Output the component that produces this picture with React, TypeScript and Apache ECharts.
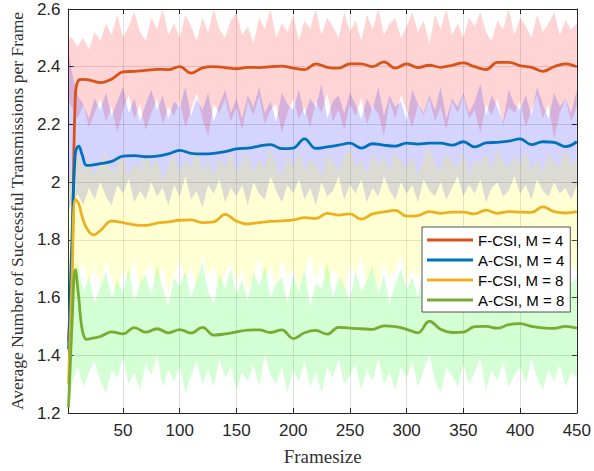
import React, { useEffect, useRef } from "react";
import * as echarts from "echarts";

// x positions of the mean curves
const lineX = [2, 5, 8, 11, 14, 18, 24, 30,
  40, 50, 60, 70, 80, 90, 100, 110, 120, 130,
  140, 150, 160, 170, 180, 190, 200, 210, 220, 230,
  240, 250, 260, 270, 280, 290, 300, 310, 320, 330,
  340, 350, 360, 370, 380, 390, 400, 410, 420, 430,
  440, 450];

const fcsiM4 = [1.45, 1.70, 2.30, 2.354, 2.356, 2.355, 2.350, 2.345,
  2.357, 2.382, 2.384, 2.387, 2.391, 2.390, 2.400, 2.378, 2.396, 2.400,
  2.397, 2.393, 2.398, 2.397, 2.400, 2.402, 2.395, 2.390, 2.410, 2.398,
  2.395, 2.410, 2.410, 2.400, 2.417, 2.395, 2.410, 2.397, 2.405, 2.398,
  2.405, 2.413, 2.400, 2.390, 2.415, 2.415, 2.404, 2.398, 2.384, 2.400,
  2.410, 2.400];

const acsiM4 = [1.42, 1.80, 2.10, 2.125, 2.095, 2.058, 2.060, 2.064,
  2.072, 2.090, 2.092, 2.088, 2.090, 2.098, 2.110, 2.100, 2.098, 2.100,
  2.106, 2.115, 2.118, 2.125, 2.130, 2.116, 2.118, 2.150, 2.117, 2.122,
  2.128, 2.135, 2.118, 2.133, 2.128, 2.125, 2.135, 2.132, 2.135, 2.135,
  2.128, 2.140, 2.122, 2.136, 2.138, 2.142, 2.150, 2.130, 2.140, 2.138,
  2.123, 2.140];

const fcsiM8 = [1.30, 1.65, 1.94, 1.925, 1.88, 1.84, 1.817, 1.832,
  1.865, 1.860, 1.852, 1.850, 1.858, 1.862, 1.868, 1.869, 1.860, 1.862,
  1.888, 1.865, 1.855, 1.860, 1.864, 1.866, 1.869, 1.877, 1.874, 1.892,
  1.886, 1.890, 1.872, 1.890, 1.897, 1.902, 1.882, 1.884, 1.898, 1.892,
  1.896, 1.896, 1.890, 1.903, 1.892, 1.898, 1.896, 1.895, 1.914, 1.898,
  1.893, 1.898];

const acsiM8 = [1.22, 1.50, 1.697, 1.60, 1.49, 1.455, 1.460, 1.465,
  1.481, 1.474, 1.496, 1.480, 1.492, 1.478, 1.489, 1.477, 1.497, 1.470,
  1.474, 1.481, 1.487, 1.488, 1.479, 1.488, 1.458, 1.478, 1.486, 1.473,
  1.497, 1.494, 1.492, 1.490, 1.502, 1.499, 1.490, 1.478, 1.518, 1.490,
  1.479, 1.480, 1.499, 1.500, 1.494, 1.506, 1.510, 1.500, 1.495, 1.493,
  1.500, 1.494];

// x positions of the shaded spread bands
const bandX = [2, 5, 10, 15, 20, 25, 30, 35, 40, 45,
  50, 55, 60, 65, 70, 75, 80, 85, 90, 95,
  100, 105, 110, 115, 120, 125, 130, 135, 140, 145,
  150, 155, 160, 165, 170, 175, 180, 185, 190, 195,
  200, 205, 210, 215, 220, 225, 230, 235, 240, 245,
  250, 255, 260, 265, 270, 275, 280, 285, 290, 295,
  300, 305, 310, 315, 320, 325, 330, 335, 340, 345,
  350, 355, 360, 365, 370, 375, 380, 385, 390, 395,
  400, 405, 410, 415, 420, 425, 430, 435, 440, 445,
  450];

const fcsiM4Upper = [2.50, 2.50, 2.47, 2.50, 2.46, 2.52, 2.49, 2.55, 2.51, 2.58,
  2.50, 2.54, 2.59, 2.52, 2.49, 2.57, 2.53, 2.60, 2.51, 2.55,
  2.50, 2.58, 2.54, 2.49, 2.57, 2.52, 2.60, 2.53, 2.50, 2.56,
  2.59, 2.51, 2.54, 2.48, 2.57, 2.53, 2.60, 2.50, 2.55, 2.52,
  2.58, 2.49, 2.56, 2.53, 2.60, 2.51, 2.57, 2.54, 2.50, 2.59,
  2.52, 2.56, 2.49, 2.58, 2.53, 2.60, 2.51, 2.55, 2.57, 2.50,
  2.54, 2.59, 2.52, 2.56, 2.48, 2.58, 2.53, 2.60, 2.51, 2.55,
  2.50, 2.57, 2.54, 2.59, 2.52, 2.49, 2.56, 2.53, 2.60, 2.51,
  2.57, 2.54, 2.50, 2.58, 2.52, 2.55, 2.59, 2.51, 2.56, 2.53,
  2.55];
const fcsiM4Lower = [2.28, 2.26, 2.22, 2.27, 2.19, 2.24, 2.29, 2.21, 2.26, 2.17,
  2.25, 2.30, 2.22, 2.27, 2.18, 2.24, 2.29, 2.20, 2.26, 2.23,
  2.28, 2.19, 2.25, 2.31, 2.22, 2.16, 2.27, 2.24, 2.29, 2.21,
  2.26, 2.18, 2.28, 2.23, 2.30, 2.20, 2.25, 2.27, 2.17, 2.24,
  2.29, 2.22, 2.26, 2.19, 2.28, 2.24, 2.31, 2.21, 2.25, 2.18,
  2.27, 2.23, 2.29, 2.20, 2.26, 2.24, 2.16, 2.28, 2.22, 2.30,
  2.25, 2.19, 2.27, 2.23, 2.29, 2.21, 2.26, 2.18, 2.28, 2.24,
  2.30, 2.22, 2.25, 2.17, 2.27, 2.23, 2.29, 2.20, 2.26, 2.24,
  2.28, 2.19, 2.25, 2.30, 2.22, 2.27, 2.15, 2.24, 2.29, 2.21,
  2.26];

const acsiM4Upper = [2.45, 2.38, 2.30, 2.27, 2.22, 2.29, 2.25, 2.31, 2.23, 2.28,
  2.33, 2.24, 2.29, 2.21, 2.27, 2.32, 2.25, 2.30, 2.22, 2.28,
  2.26, 2.33, 2.23, 2.29, 2.25, 2.31, 2.21, 2.27, 2.32, 2.24,
  2.29, 2.22, 2.30, 2.26, 2.33, 2.24, 2.28, 2.21, 2.31, 2.27,
  2.25, 2.32, 2.23, 2.29, 2.26, 2.34, 2.22, 2.28, 2.30, 2.24,
  2.31, 2.27, 2.22, 2.29, 2.25, 2.33, 2.23, 2.30, 2.26, 2.28,
  2.21, 2.32, 2.27, 2.24, 2.30, 2.25, 2.33, 2.22, 2.29, 2.26,
  2.31, 2.24, 2.28, 2.34, 2.23, 2.30, 2.26, 2.21, 2.32, 2.27,
  2.25, 2.30, 2.23, 2.33, 2.27, 2.22, 2.31, 2.26, 2.29, 2.24,
  2.32];
const acsiM4Lower = [1.90, 1.93, 1.96, 1.92, 1.98, 1.94, 2.00, 1.95, 1.92, 1.99,
  1.96, 2.01, 1.93, 1.97, 1.94, 2.00, 1.95, 1.98, 1.92, 1.99,
  1.95, 2.02, 1.94, 1.97, 1.91, 1.99, 1.96, 2.01, 1.93, 1.98,
  1.95, 1.99, 1.92, 2.00, 1.96, 1.94, 2.02, 1.97, 1.93, 1.99,
  1.96, 2.01, 1.94, 1.98, 1.92, 2.00, 1.95, 1.97, 2.02, 1.94,
  1.99, 1.96, 2.01, 1.93, 1.98, 1.95, 2.02, 1.97, 1.94, 2.00,
  1.96, 1.99, 1.93, 2.01, 1.97, 1.95, 2.00, 1.94, 1.98, 2.02,
  1.95, 1.99, 1.96, 2.01, 1.93, 1.98, 2.00, 1.95, 1.97, 2.02,
  1.96, 1.99, 1.94, 2.01, 1.97, 1.95, 2.00, 1.96, 1.98, 1.94,
  1.99];

const fcsiM8Upper = [2.00, 2.06, 2.10, 2.04, 2.08, 2.02, 2.07, 2.11, 2.03, 2.06,
  2.09, 2.02, 2.07, 2.04, 2.11, 2.05, 2.08, 2.01, 2.06, 2.10,
  2.03, 2.08, 2.05, 2.12, 2.04, 2.07, 2.02, 2.09, 2.05, 2.11,
  2.04, 2.07, 2.10, 2.03, 2.08, 2.05, 2.12, 2.06, 2.02, 2.09,
  2.05, 2.11, 2.04, 2.08, 2.06, 2.02, 2.10, 2.07, 2.04, 2.09,
  2.12, 2.05, 2.08, 2.03, 2.10, 2.06, 2.09, 2.04, 2.11, 2.07,
  2.05, 2.09, 2.02, 2.08, 2.12, 2.06, 2.04, 2.10, 2.07, 2.05,
  2.11, 2.03, 2.08, 2.06, 2.10, 2.04, 2.12, 2.07, 2.05, 2.09,
  2.06, 2.11, 2.04, 2.08, 2.03, 2.10, 2.07, 2.05, 2.12, 2.06,
  2.08];
const fcsiM8Lower = [1.62, 1.66, 1.68, 1.72, 1.65, 1.70, 1.64, 1.73, 1.67, 1.62,
  1.70, 1.66, 1.74, 1.63, 1.69, 1.72, 1.65, 1.71, 1.62, 1.68,
  1.73, 1.66, 1.70, 1.64, 1.75, 1.67, 1.71, 1.63, 1.69, 1.72,
  1.65, 1.70, 1.62, 1.68, 1.74, 1.66, 1.71, 1.64, 1.73, 1.67,
  1.70, 1.63, 1.69, 1.75, 1.66, 1.72, 1.64, 1.70, 1.67, 1.62,
  1.71, 1.68, 1.74, 1.65, 1.70, 1.63, 1.72, 1.67, 1.69, 1.75,
  1.64, 1.70, 1.66, 1.73, 1.62, 1.69, 1.71, 1.65, 1.74, 1.68,
  1.66, 1.72, 1.63, 1.70, 1.67, 1.75, 1.65, 1.71, 1.68, 1.64,
  1.73, 1.67, 1.70, 1.62, 1.69, 1.74, 1.66, 1.71, 1.64, 1.72,
  1.68];

const acsiM8Upper = [1.70, 1.66, 1.72, 1.62, 1.67, 1.58, 1.64, 1.69, 1.60, 1.66,
  1.62, 1.70, 1.59, 1.65, 1.68, 1.61, 1.71, 1.63, 1.57, 1.67,
  1.64, 1.69, 1.60, 1.66, 1.72, 1.62, 1.58, 1.68, 1.63, 1.70,
  1.61, 1.66, 1.59, 1.69, 1.64, 1.71, 1.60, 1.65, 1.67, 1.58,
  1.68, 1.62, 1.70, 1.57, 1.65, 1.63, 1.72, 1.60, 1.67, 1.64,
  1.59, 1.69, 1.62, 1.66, 1.71, 1.61, 1.68, 1.58, 1.65, 1.70,
  1.63, 1.67, 1.60, 1.72, 1.64, 1.59, 1.69, 1.62, 1.66, 1.71,
  1.58, 1.65, 1.68, 1.61, 1.70, 1.63, 1.67, 1.60, 1.72, 1.64,
  1.69, 1.62, 1.66, 1.59, 1.71, 1.64, 1.68, 1.61, 1.70, 1.65,
  1.67];
const acsiM8Lower = [1.20, 1.30, 1.36, 1.29, 1.34, 1.38, 1.31, 1.27, 1.35, 1.32,
  1.39, 1.30, 1.34, 1.28, 1.37, 1.33, 1.40, 1.29, 1.35, 1.31,
  1.36, 1.27, 1.33, 1.38, 1.30, 1.35, 1.29, 1.39, 1.32, 1.36,
  1.28, 1.34, 1.31, 1.37, 1.29, 1.40, 1.33, 1.30, 1.36, 1.27,
  1.35, 1.31, 1.38, 1.29, 1.34, 1.27, 1.36, 1.32, 1.39, 1.30,
  1.33, 1.37, 1.28, 1.35, 1.31, 1.39, 1.30, 1.34, 1.28, 1.36,
  1.32, 1.38, 1.29, 1.35, 1.40, 1.31, 1.27, 1.36, 1.33, 1.29,
  1.37, 1.30, 1.34, 1.39, 1.28, 1.35, 1.31, 1.38, 1.29, 1.33,
  1.36, 1.30, 1.39, 1.32, 1.28, 1.35, 1.31, 1.37, 1.29, 1.34,
  1.32];

const seriesNames = ["F-CSI, M = 4", "A-CSI, M = 4", "F-CSI, M = 8", "A-CSI, M = 8"];
const lineColors = ["#D95319", "#0072BD", "#EDB120", "#77AC30"];
const bandColors = ["rgba(255,0,0,0.17)", "rgba(0,0,255,0.17)", "rgba(255,255,0,0.17)", "rgba(0,255,0,0.17)"];

const means = [fcsiM4, acsiM4, fcsiM8, acsiM8];
const uppers = [fcsiM4Upper, acsiM4Upper, fcsiM8Upper, acsiM8Upper];
const lowers = [fcsiM4Lower, acsiM4Lower, fcsiM8Lower, acsiM8Lower];

const SANS = "'Liberation Sans', Arial, Helvetica, sans-serif";
const SERIF = "'Liberation Serif', 'Times New Roman', serif";
const AXIS_COLOR = "#262626";

export default function App() {
  const ref = useRef<HTMLDivElement>(null);

  useEffect(() => {
    if (!ref.current) return;
    const chart = echarts.init(ref.current, undefined, { renderer: "svg" });

    const bandSeries: any[] = [0, 1, 2, 3].map((k) => ({
      name: "band-" + k,
      type: "custom",
      data: bandX.map((x, i) => [x, lowers[k][i], uppers[k][i]]),
      encode: { x: 0, y: [1, 2] },
      silent: true,
      z: 1,
      renderItem: (params: any, api: any) => {
        if (params.dataIndex !== 0) return null;
        const pts: number[][] = [];
        for (let i = 0; i < bandX.length; i++) pts.push(api.coord([bandX[i], uppers[k][i]]));
        for (let i = bandX.length - 1; i >= 0; i--) pts.push(api.coord([bandX[i], lowers[k][i]]));
        return {
          type: "polygon",
          shape: { points: pts },
          style: { fill: bandColors[k], stroke: "none" },
          silent: true,
        };
      },
    }));

    const lineSeries = means.map((m, k) => ({
      name: seriesNames[k],
      type: "line",
      data: lineX.map((x, i) => [x, m[i]]),
      symbol: "none",
      smooth: 0.4,
      lineStyle: { color: lineColors[k], width: 2.8 },
      itemStyle: { color: lineColors[k] },
      emphasis: { disabled: true },
      z: 3,
    }));

    const option: any = {
      animation: false,
      backgroundColor: "#ffffff",
      grid: { left: 62, right: 17, top: 9, bottom: 58, containLabel: false },
      legend: {
        data: seriesNames.map((n) => ({ name: n, icon: "rect" })),
        orient: "vertical",
        left: 422,
        top: 227,
        itemWidth: 46,
        itemHeight: 3,
        itemGap: 4,
        padding: [5, 6, 4, 5],
        backgroundColor: "#ffffff",
        borderColor: AXIS_COLOR,
        borderWidth: 0.8,
        borderRadius: 0,
        textStyle: { fontFamily: SANS, fontSize: 15, color: "#000", lineHeight: 16 },
      },
      xAxis: [
        {
          type: "value",
          min: 2,
          max: 450,
          splitNumber: 9,
          position: "bottom",
          name: "Framesize",
          nameLocation: "middle",
          nameGap: 34,
          nameTextStyle: { fontFamily: SERIF, fontSize: 19, color: "#333" },
          axisLine: { show: true, lineStyle: { color: AXIS_COLOR, width: 1 } },
          axisTick: { show: true, inside: true, length: 5, lineStyle: { color: AXIS_COLOR } },
          axisLabel: { showMinLabel: false, fontFamily: SANS, fontSize: 17, color: AXIS_COLOR, margin: 9 },
          splitLine: { show: true, lineStyle: { color: "rgba(38,38,38,0.15)", width: 1 } },
        },
        {
          type: "value",
          min: 2,
          max: 450,
          splitNumber: 9,
          position: "top",
          axisLine: { show: true, lineStyle: { color: AXIS_COLOR, width: 1 } },
          axisTick: { show: true, inside: true, length: 5, lineStyle: { color: AXIS_COLOR } },
          axisLabel: { show: false },
          splitLine: { show: false },
        },
      ],
      yAxis: [
        {
          type: "value",
          min: 1.2,
          max: 2.6,
          interval: 0.2,
          position: "left",
          name: "Average Number of Successful Transmissions per Frame",
          nameLocation: "middle",
          nameGap: 40,
          nameTextStyle: { fontFamily: SERIF, fontSize: 17.5, color: "#333" },
          axisLine: { show: true, lineStyle: { color: AXIS_COLOR, width: 1 } },
          axisTick: { show: true, inside: true, length: 5, lineStyle: { color: AXIS_COLOR } },
          axisLabel: { fontFamily: SANS, fontSize: 17, color: AXIS_COLOR, margin: 8 },
          splitLine: { show: true, lineStyle: { color: "rgba(38,38,38,0.15)", width: 1 } },
        },
        {
          type: "value",
          min: 1.2,
          max: 2.6,
          interval: 0.2,
          position: "right",
          axisLine: { show: true, lineStyle: { color: AXIS_COLOR, width: 1 } },
          axisTick: { show: true, inside: true, length: 5, lineStyle: { color: AXIS_COLOR } },
          axisLabel: { show: false },
          splitLine: { show: false },
        },
      ],
      series: [...bandSeries, ...lineSeries],
    };

    chart.setOption(option);
    return () => chart.dispose();
  }, []);

  return (
    <div
      ref={ref}
      style={{ position: "absolute", left: 0, top: 0, width: 594, height: 471 }}
    />
  );
}
